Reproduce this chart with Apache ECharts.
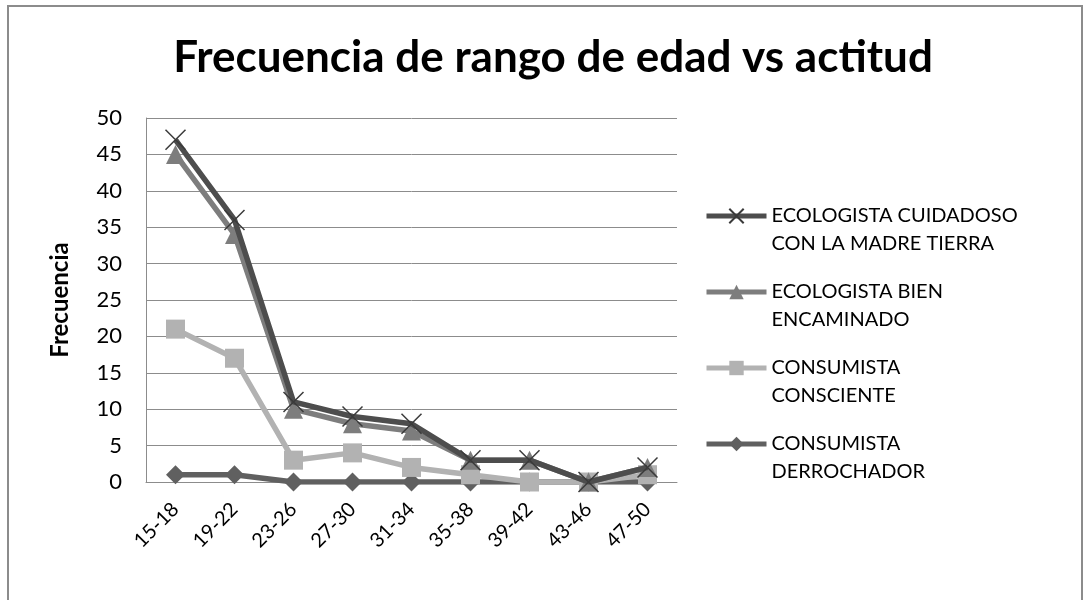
<!DOCTYPE html>
<html>
<head>
<meta charset="utf-8">
<script src="https://cdn.jsdelivr.net/npm/echarts@6/dist/echarts.min.js"></script>
<style>html,body{margin:0;padding:0;background:#fff}#c{width:1084px;height:600px}</style>
</head>
<body>
<div id="c"></div>
<script>
const categories = ['15-18','19-22','23-26','27-30','31-34','35-38','39-42','43-46','47-50'];
const seriesNames = ['ECOLOGISTA CUIDADOSO\nCON LA MADRE TIERRA','ECOLOGISTA BIEN\nENCAMINADO','CONSUMISTA\nCONSCIENTE','CONSUMISTA\nDERROCHADOR'];
const ecoCuidadoso = [47, 36, 11, 9, 8, 3, 3, 0, 2];
const ecoBien = [45, 34, 10, 8, 7, 3, 3, 0, 2];
const consConsciente = [21, 17, 3, 4, 2, 1, 0, 0, 1];
const consDerrochador = [1, 1, 0, 0, 0, 0, 0, 0, 0];
const titleText = 'Frecuencia de rango de edad vs actitud';
const yName = 'Frecuencia';

const FONT = 'Lato';
const chart = echarts.init(document.getElementById('c'), null, {renderer:'canvas'});
function mk(name, data, color, symbol, size, extra) {
  return Object.assign({
    name, type:'line', data, symbol, symbolSize:size,
    lineStyle:{color, width:5.5},
    itemStyle:{color},
    emphasis:{disabled:true},
    animation:false
  }, extra||{});
}
chart.setOption({
  backgroundColor:'#fff',
  animation:false,
  graphic:[{type:'rect', shape:{x:8, y:6, width:1074, height:600}, style:{fill:'none', stroke:'#8c8c8c', lineWidth:2}, silent:true}],
  title:{text:titleText, left:548, textAlign:'center', top:31,
    textStyle:{fontFamily:FONT, fontWeight:'bold', fontSize:44, color:'#000'}},
  grid:{left:146, right:407, top:118, bottom:118, containLabel:false},
  legend:{orient:'vertical', left:699, top:169, itemWidth:60, itemHeight:18, itemGap:-8,
    formatter:(n)=>' \n'+n,
    lineStyle:{width:5},
    textStyle:{fontFamily:FONT, fontSize:20, color:'#000', lineHeight:28},
    data:seriesNames},
  xAxis:{type:'category', data:categories, boundaryGap:true,
    axisLine:{lineStyle:{color:'#8c8c8c', width:1}}, axisTick:{show:false},
    axisLabel:{rotate:45, fontFamily:FONT, fontSize:20, color:'#000', margin:24}},
  yAxis:{type:'value', min:0, max:50, interval:5, name:yName, nameLocation:'middle', nameGap:74,
    nameTextStyle:{fontFamily:FONT, fontWeight:'bold', fontSize:24, color:'#000'},
    axisLine:{show:true, lineStyle:{color:'#8c8c8c'}}, axisTick:{show:true, inside:true, length:4, lineStyle:{color:'#8c8c8c'}},
    splitLine:{lineStyle:{color:'#8c8c8c', width:1}},
    axisLabel:{fontFamily:FONT, fontSize:22, color:'#000', margin:24}},
  series:[
    mk(seriesNames[3], consDerrochador, '#606060', 'diamond', 19, {z:2}),
    mk(seriesNames[2], consConsciente, '#b2b2b2', 'rect', 19, {z:3}),
    mk(seriesNames[1], ecoBien, '#7d7d7d', 'triangle', 19, {z:4}),
    mk(seriesNames[0], ecoCuidadoso, '#4d4d4d', 'path://M0,0L10,10M10,0L0,10', 20,
      {z:5, itemStyle:{color:'none', borderColor:'#3a3a3a', borderWidth:1.5}})
  ]
});
</script>
</body>
</html>
